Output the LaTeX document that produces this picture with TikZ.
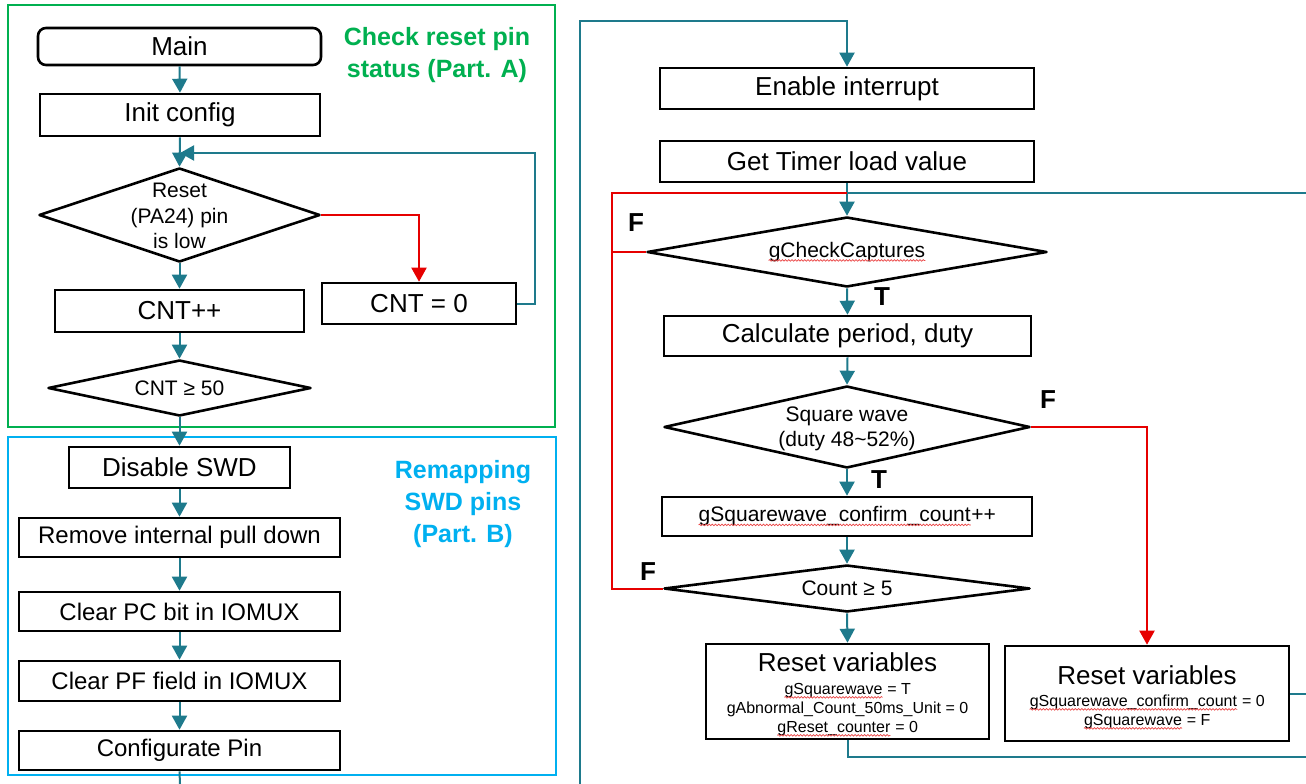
\documentclass[tikz,border=0pt]{standalone}
\usepackage{fontspec}
\setmainfont{Liberation Sans}
\usetikzlibrary{arrows.meta,shapes.geometric,decorations.pathmorphing}
\definecolor{teal1}{RGB}{30,122,140}
\definecolor{grn}{RGB}{0,176,80}
\definecolor{sky}{RGB}{0,176,240}
\definecolor{rd}{RGB}{230,0,0}
\definecolor{spell}{RGB}{235,70,70}
\newcommand{\fs}[2]{\fontsize{#1}{#2}\selectfont}
\newcommand{\sqw}[1]{\tikz[baseline=(sw.base)]{\node[inner sep=0pt,anchor=base,font=,draw=none,fill=none,minimum width=0pt,minimum height=0pt] (sw) {#1};\draw[spell,line width=0.7pt,decorate,decoration={snake,amplitude=0.8pt,segment length=3.2pt}] ([yshift=-3pt]sw.base west) -- ([yshift=-3pt]sw.base east);}}
\begin{document}
\begin{tikzpicture}[x=1pt,y=-1pt,
  box/.style={draw=black, line width=2.6pt, inner sep=0pt, fill=white, text=black, font=\fs{26}{30}},
  sbox/.style={box, font=\fs{24}{28}},
  dia/.style={draw=black, line width=2.6pt, diamond, inner sep=0pt, fill=white, line join=round},
  lbl/.style={font=\fs{21}{25.5}, align=center, inner sep=0pt, text=black},
  vtx/.style={font=\fs{16}{19}, align=center, inner sep=0pt, text=black},
  arr/.style={draw=teal1, line width=2pt, -{Triangle[length=14pt,width=15pt]}},
  lnk/.style={draw=teal1, line width=2pt},
  arrR/.style={draw=rd, line width=2pt, -{Triangle[length=14pt,width=15pt]}},
  lnkR/.style={draw=rd, line width=2pt},
  tf/.style={font=\bfseries\fs{26}{30}, inner sep=0pt, text=black},
  frame/.style={draw, line width=2pt, inner sep=0pt},
  ttl/.style={font=\bfseries\fs{25}{32}, align=center, inner sep=0pt},
]
\useasboundingbox (0,0) rectangle (1306,784);
\fill[white] (0,0) rectangle (1306,784);

% frames
\node[frame, draw=grn, minimum width=547, minimum height=422] (partA) at (281.5,216) {};
\node[frame, draw=sky, minimum width=548, minimum height=338] (partB) at (282,606) {};
\node[ttl, text=grn] (ta) at (437,55.5) {Check reset pin\\status (Part. A)};
\node[ttl, text=sky] (tb) at (463,504) {Remapping\\SWD pins\\(Part. B)};

% left column
\node[box, rounded corners=8pt, minimum width=283, minimum height=37] (main) at (179.5,46.5) {Main};
\node[box, minimum width=280, minimum height=42] (init) at (180,115) {Init config};
\node[dia, minimum width=281, minimum height=94] (d1) at (179.5,215) {};
\node[lbl] (d1t) at (179.5,216) {Reset\\(PA24) pin\\is low};
\node[box, minimum width=249, minimum height=42] (cntpp) at (179.5,311) {CNT++};
\node[box, minimum width=194, minimum height=41] (cnt0) at (419,303.5) {CNT = 0};
\node[dia, minimum width=263, minimum height=56] (d2) at (179.5,388) {};
\node[lbl] (d2t) at (179.5,388) {CNT ≥ 50};
\node[box, minimum width=221, minimum height=41] (swd) at (179.5,467.5) {Disable SWD};
\node[sbox, minimum width=321, minimum height=39] (rm) at (179.5,537.5) {Remove internal pull down};
\node[sbox, minimum width=321, minimum height=39] (pc) at (179.5,611.5) {Clear PC bit in IOMUX};
\node[sbox, minimum width=321, minimum height=40] (pf) at (179.5,681) {Clear PF field in IOMUX};
\node[sbox, minimum width=321, minimum height=39] (cfg) at (179.5,750.5) {Configurate Pin};

% right column
\node[box, minimum width=374, minimum height=41] (en) at (847,88.5) {Enable interrupt};
\node[box, minimum width=374, minimum height=41] (gt) at (847,161.5) {Get Timer load value};
\node[dia, minimum width=400, minimum height=70] (d3) at (847,252) {};
\node[lbl] (d3t) at (847,252) {\sqw{gCheckCaptures}};
\node[box, minimum width=367, minimum height=40] (calc) at (847.5,336) {Calculate period, duty};
\node[dia, minimum width=366, minimum height=82] (d4) at (847,427) {};
\node[lbl, font=\fs{21}{25}] (d4t) at (847,429) {Square wave\\(duty 48\textasciitilde52\%)};
\node[box, minimum width=370, minimum height=39] (sqc) at (847,516.5) {};
\node[lbl] (sqct) at (847,516.5) {\sqw{gSquarewave\_confirm\_count}++};
\node[dia, minimum width=366, minimum height=47] (d5) at (847,588.5) {};
\node[lbl] (d5t) at (847,588.5) {Count ≥ 5};
\node[box, minimum width=283, minimum height=95] (rv1) at (847.5,691.5) {};
\node[vtx] (rv1t) at (847.5,694.5)
  {{\fs{26}{30}Reset variables}\\[4pt]\sqw{gSquarewave} = T\\gAbnormal\_Count\_50ms\_Unit = 0\\\sqw{gReset\_counter} = 0};
\node[box, minimum width=284, minimum height=95] (rv2) at (1147,693.5) {};
\node[vtx] (rv2t) at (1147,697.5)
  {{\fs{26}{30}Reset variables}\\[3pt]\sqw{gSquarewave\_confirm\_count} = 0\\\sqw{gSquarewave} = F};

% T/F labels
\node[tf] (f1) at (636,223) {F};
\node[tf] (t1) at (882,297) {T};
\node[tf] (f2) at (1048,400) {F};
\node[tf] (t2) at (879,480) {T};
\node[tf] (f3) at (648,572) {F};

% left connectors
\coordinate (j1) at (180,153);
\coordinate (lend) at (180,784);
\draw[arr] (main.south) -- (init.north);
\draw[arr] (init.south) -- (d1.north);
\draw[arr] (cnt0.east) -- ++(18,0) |- (j1);
\draw[arrR] (d1.east) -| (cnt0.north);
\draw[arr] (d1.south) -- (cntpp.north);
\draw[arr] (cntpp.south) -- (d2.north);
\draw[arr] (d2.south) -- (swd.north);
\draw[arr] (swd.south) -- (rm.north);
\draw[arr] (rm.south) -- (pc.north);
\draw[arr] (pc.south) -- (pf.north);
\draw[arr] (pf.south) -- (cfg.north);
\draw[lnk] (cfg.south) -- (lend);

% right connectors
\coordinate (rstart) at (580,784);
\coordinate (redge1) at (1306,193);
\coordinate (redge2) at (1306,757);
\coordinate (redge3) at (1306,693.5);
\coordinate (jr) at (847,193);
\draw[arr] (rstart) -- (580,21) -| (en.north);
\draw[lnk] (redge1) -- (jr);
\draw[arr] (gt.south) -- (d3.north);
\draw[lnkR] (d5.west) -| (612,193) -- (jr);
\draw[lnkR] (d3.west) -- (612,252);
\draw[arr] (d3.south) -- (calc.north);
\draw[arr] (calc.south) -- (d4.north);
\draw[arr] (d4.south) -- (sqc.north);
\draw[arrR] (d4.east) -| (rv2.north);
\draw[arr] (sqc.south) -- (d5.north);
\draw[arr] (d5.south) -- (rv1.north);
\draw[lnk] (rv1.south) |- (redge2);
\draw[lnk] (rv2.east) -- (redge3);
\end{tikzpicture}
\end{document}
